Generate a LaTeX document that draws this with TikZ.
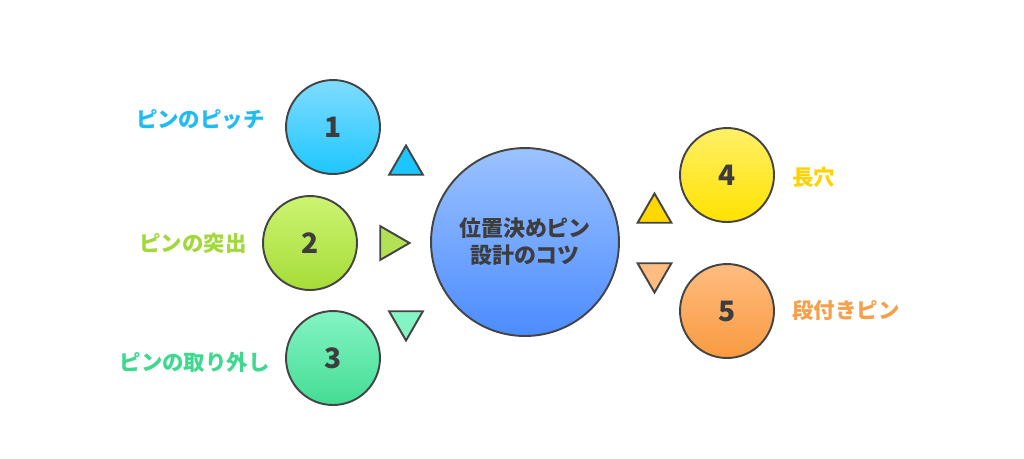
\documentclass[tikz,border=0pt]{standalone}
\usepackage{fontspec}
\setmainfont{Noto Sans CJK JP}
\usetikzlibrary{shapes.geometric}
\definecolor{edge}{HTML}{444444}
\definecolor{ink}{HTML}{3D3D3D}
\definecolor{cyanA}{HTML}{80DCFF}\definecolor{cyanB}{HTML}{1EC6FF}\definecolor{cyanT}{HTML}{22BBF0}
\definecolor{limeA}{HTML}{CCF472}\definecolor{limeB}{HTML}{A6DC38}\definecolor{limeT}{HTML}{A2D83C}
\definecolor{mintA}{HTML}{84F4C4}\definecolor{mintB}{HTML}{44DC94}\definecolor{mintT}{HTML}{3ED88E}
\definecolor{blueA}{HTML}{9CC2FF}\definecolor{blueB}{HTML}{4C8CFF}
\definecolor{yelA}{HTML}{FFF068}\definecolor{yelB}{HTML}{FFE200}\definecolor{yelT}{HTML}{FFD200}
\definecolor{oraA}{HTML}{FFBC80}\definecolor{oraB}{HTML}{F99A40}\definecolor{oraT}{HTML}{F7A04C}
\begin{document}
\begin{tikzpicture}[x=0.02cm,y=-0.02cm,
    ball/.style={circle,draw=edge,line width=1.1pt,minimum size=1.88cm,inner sep=0pt,
      text=ink,font=\fontsize{16}{18}\selectfont\bfseries},
    tri/.style={regular polygon,regular polygon sides=3,draw=edge,line width=1.1pt,
      minimum size=0.78cm,inner sep=0pt},
    tag/.style={inner sep=0pt,font=\fontsize{12.2}{14}\selectfont\bfseries}]
  \useasboundingbox (0,0) rectangle (1024,458);
  % centre
  \node[ball,minimum size=3.76cm,top color=blueA,bottom color=blueB,align=center,
    font=\fontsize{12.5}{15.4}\selectfont\bfseries] (hub) at (525,242) {位置決めピン\\設計のコツ};
  % left side
  \node[ball,top color=cyanA,bottom color=cyanB] (c1) at (333,127) {1};
  \node[ball,top color=limeA,bottom color=limeB] (c2) at (310,243) {2};
  \node[ball,top color=mintA,bottom color=mintB] (c3) at (333,358) {3};
  \node[tri,fill=cyanB] (t1) at (406,165) {};
  \node[tri,fill=limeB!85!white,shape border rotate=-90] (t2) at (390,243) {};
  \node[tri,fill=mintA,shape border rotate=180] (t3) at (406,321) {};
  \node[tag,text=cyanT,anchor=east] (l1) at (265,120) {ピンのピッチ};
  \node[tag,text=limeT,anchor=east] (l2) at (247,243) {ピンの突出};
  \node[tag,text=mintT,anchor=east] (l3) at (270,362) {ピンの取り外し};
  % right side
  \node[ball,top color=yelA,bottom color=yelB] (c4) at (727,175) {4};
  \node[ball,top color=oraA,bottom color=oraB] (c5) at (727,311) {5};
  \node[tri,fill=yelB!90!orange] (t4) at (654.5,213) {};
  \node[tri,fill=oraA,shape border rotate=180] (t5) at (654.5,273) {};
  \node[tag,text=yelT,anchor=west] (l4) at (792,177) {長穴};
  \node[tag,text=oraT,anchor=west] (l5) at (792,310) {段付きピン};
\end{tikzpicture}
\end{document}
